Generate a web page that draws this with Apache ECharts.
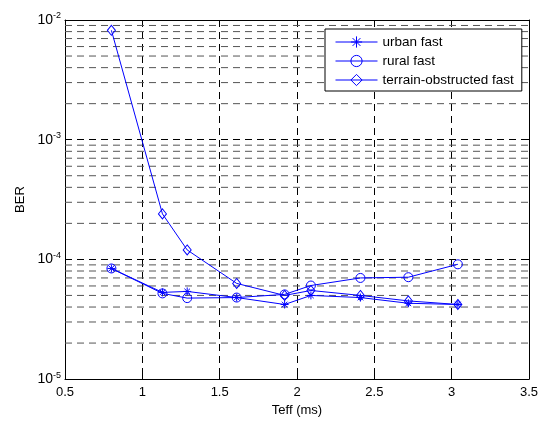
<!DOCTYPE html>
<html><head><meta charset="utf-8">
<script src="https://cdn.jsdelivr.net/npm/echarts@6/dist/echarts.min.js"></script>
<style>html,body{margin:0;padding:0;background:#fff}#c{width:542px;height:422px}</style>
</head><body><div id="c"></div>
<script>
const teff = [0.8, 1.13, 1.29, 1.61, 1.92, 2.09, 2.41, 2.72, 3.04];
const urban = [8.4e-5, 5.3e-5, 5.4e-5, 4.8e-5, 4.2e-5, 5.0e-5, 4.8e-5, 4.3e-5, 4.2e-5];
const rural = [8.4e-5, 5.2e-5, 4.75e-5, 4.8e-5, 5.1e-5, 6.05e-5, 7.0e-5, 7.1e-5, 9.1e-5];
const terrain = [8.2e-3, 2.4e-4, 1.2e-4, 6.3e-5, 5.0e-5, 5.5e-5, 5.0e-5, 4.5e-5, 4.2e-5];
const seriesNames = ['urban fast', 'rural fast', 'terrain-obstructed fast'];
const minorY = [2e-5,3e-5,4e-5,5e-5,6e-5,7e-5,8e-5,9e-5,2e-4,3e-4,4e-4,5e-4,6e-4,7e-4,8e-4,9e-4,2e-3,3e-3,4e-3,5e-3,6e-3,7e-3,8e-3,9e-3];
const X_MIN = 0.5, X_MAX = 3.5;

const FONT = 'Liberation Sans, Arial, sans-serif';
const BLUE = '#0000ff';
const star = 'path://M5,0L5,10M0,5L10,5M1.5,1.5L8.5,8.5M1.5,8.5L8.5,1.5';

function pts(ys){ return teff.map((x,i)=>[x, ys[i]]); }
function mk(name, ys, symbol, size){
  return {
    name, type:'line', data: pts(ys), symbol, symbolSize: size,
    lineStyle:{color:BLUE, width:1},
    itemStyle:{color:'rgba(0,0,0,0)', borderColor:BLUE, borderWidth:1},
    z: 5, animation:false
  };
}
const minorSeries = minorY.map(v => ({
  name:'_m'+v, type:'line', data:[[X_MIN, v],[X_MAX, v]], symbol:'none', silent:true, z:1,
  lineStyle:{color:'#555', type:[7,5], width:1}, animation:false, emphasis:{disabled:true}, tooltip:{show:false}
}));
const chart = echarts.init(document.getElementById('c'));
chart.setOption({
  animation:false,
  grid:{left:65, right:13, top:20, bottom:37, show:false},
  legend:{
    left:325, top:29, orient:'vertical',
    itemWidth:42, itemHeight:14, itemGap:5, padding:[6,8,4,10],
    backgroundColor:'#fff', borderColor:'#000', borderWidth:1,
    lineStyle:{width:1}, itemStyle:{borderWidth:1},
    textStyle:{fontFamily:FONT, fontSize:13.5, lineHeight:14, color:'#000'},
    data: seriesNames
  },
  xAxis:[{
    type:'value', min:X_MIN, max:X_MAX, interval:0.5,
    name:'Teff (ms)', nameLocation:'middle', nameGap:23,
    nameTextStyle:{fontFamily:FONT, fontSize:13, color:'#000'},
    axisLine:{lineStyle:{color:'#000', width:1}},
    axisTick:{inside:true, length:5, lineStyle:{color:'#000'}},
    axisLabel:{fontFamily:FONT, fontSize:13, color:'#000', margin:7, formatter:v=>String(v)},
    splitLine:{show:true, lineStyle:{color:'#000', type:[7,5], width:1}}
  },{
    type:'value', min:X_MIN, max:X_MAX, interval:0.5, position:'top',
    axisLine:{lineStyle:{color:'#000', width:1}},
    axisTick:{inside:true, length:5, lineStyle:{color:'#000'}},
    axisLabel:{show:false}, splitLine:{show:false}
  }],
  yAxis:[{
    type:'log', min:1e-5, max:1e-2, logBase:10,
    name:'BER', nameLocation:'middle', nameGap:37, nameRotate:90,
    nameTextStyle:{fontFamily:FONT, fontSize:13, color:'#000'},
    axisLine:{show:true, lineStyle:{color:'#000', width:1}},
    axisTick:{inside:true, length:5, lineStyle:{color:'#000'}},
    axisLabel:{margin:4, formatter:v=>'{b|10}{s|'+Math.round(Math.log10(v))+'}',
      rich:{
        b:{fontFamily:FONT, fontSize:14, color:'#000', lineHeight:14},
        s:{fontFamily:FONT, fontSize:9, color:'#000', lineHeight:9, padding:[0,0,8,0]}
      }},
    splitLine:{show:true, lineStyle:{color:'#000', type:[7,5], width:1}}
  },{
    type:'log', min:1e-5, max:1e-2, logBase:10, position:'right',
    axisLine:{show:true, lineStyle:{color:'#000', width:1}},
    axisTick:{inside:true, length:5, lineStyle:{color:'#000'}},
    axisLabel:{show:false}, splitLine:{show:false}
  }],
  series: minorSeries.concat([
    mk(seriesNames[0], urban, star, 8),
    mk(seriesNames[1], rural, 'circle', 9),
    mk(seriesNames[2], terrain, 'diamond', [8,10])
  ])
});
</script></body></html>
